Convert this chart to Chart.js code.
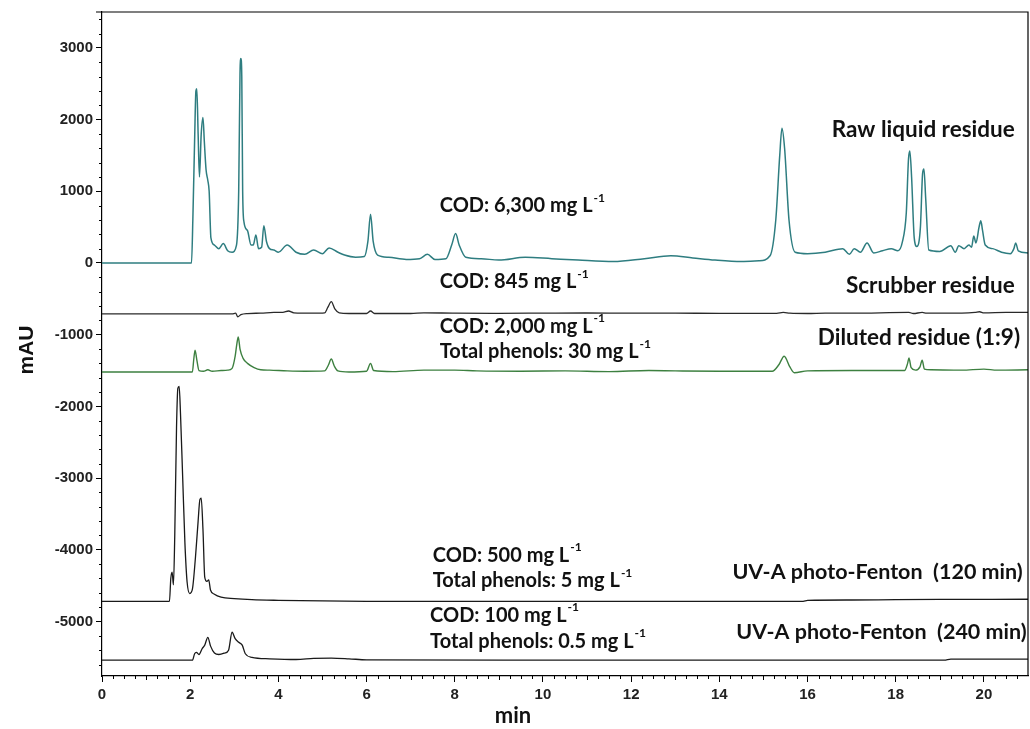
<!DOCTYPE html>
<html>
<head>
<meta charset="utf-8">
<script src="https://cdn.jsdelivr.net/npm/chart.js@4.4.1/dist/chart.umd.min.js"></script>
<style>
  body { margin: 0; background: #fff; }
  #wrap { width: 1030px; height: 729px; }
</style>
</head>
<body>
<div id="wrap"><canvas id="myChart"></canvas></div>
<script>
// retention time (min) / absorbance (mAU), traces stacked with the offsets of the figure
const rawTime = [0, 2.03, 2.06, 2.10, 2.13, 2.15, 2.18, 2.21, 2.25, 2.29, 2.32, 2.36, 2.40, 2.43, 2.47, 2.55, 2.65, 2.75, 2.85, 2.95,
  3.05, 3.10, 3.13, 3.15, 3.17, 3.19, 3.22, 3.30, 3.38, 3.43, 3.49, 3.55, 3.62, 3.67, 3.73, 3.80, 3.90, 4.00, 4.20, 4.40,
  4.60, 4.80, 5.00, 5.15, 5.35, 5.50, 5.75, 5.95, 6.03, 6.09, 6.15, 6.25, 6.50, 6.90, 7.20, 7.38, 7.55, 7.80, 7.93, 8.02,
  8.10, 8.25, 8.60, 9.00, 9.60, 10.20, 10.80, 11.60, 12.30, 12.90, 13.40, 13.90, 14.50, 14.90, 15.15, 15.28, 15.37, 15.42, 15.48, 15.58,
  15.72, 16.00, 16.40, 16.80, 16.95, 17.06, 17.20, 17.35, 17.50, 17.70, 17.90, 18.05, 18.15, 18.24, 18.29, 18.32, 18.36, 18.42, 18.48, 18.56,
  18.61, 18.64, 18.68, 18.75, 19.00, 19.25, 19.35, 19.43, 19.55, 19.66, 19.72, 19.77, 19.82, 19.89, 19.93, 19.97, 20.03, 20.20, 20.40, 20.60,
  20.68, 20.72, 20.78, 21.00];
const rawMAU = [0, 0, 600, 1700, 2400, 2430, 1800, 1200, 1800, 2030, 1700, 1300, 1150, 1000, 350, 250, 200, 270, 170, 150,
  250, 1000, 2650, 2850, 2600, 1000, 570, 450, 250, 250, 390, 200, 220, 520, 300, 200, 180, 150, 250, 150,
  120, 180, 130, 210, 150, 110, 80, 90, 300, 680, 300, 110, 80, 50, 60, 120, 50, 60, 250, 410,
  250, 80, 60, 40, 80, 60, 40, 20, 60, 100, 70, 40, 20, 30, 100, 600, 1500, 1880, 1600, 600,
  150, 130, 150, 200, 120, 200, 150, 280, 140, 170, 200, 170, 290, 700, 1450, 1560, 1200, 350, 230, 500,
  1250, 1310, 900, 180, 160, 240, 150, 240, 200, 250, 220, 375, 280, 500, 590, 450, 250, 200, 150, 130,
  200, 280, 170, 140];

const scrubTime = [0, 2.95, 3.03, 3.08, 3.15, 3.30, 3.60, 3.90, 4.10, 4.23, 4.35, 4.80, 5.05, 5.12, 5.20, 5.28, 5.38, 5.60, 6.00, 6.09,
  6.18, 7.00, 7.30, 8.00, 9.00, 10.00, 11.00, 12.00, 13.00, 14.00, 15.30, 15.45, 15.60, 16.00, 16.40, 17.00, 18.30, 18.40, 18.60, 18.70,
  19.50, 19.80, 19.90, 20.00, 20.50, 21.00];
const scrubMAU = [-710, -710, -700, -750, -720, -705, -700, -690, -690, -670, -695, -700, -695, -620, -540, -640, -695, -705, -705, -670,
  -705, -705, -695, -700, -702, -700, -698, -700, -700, -702, -702, -690, -700, -705, -700, -700, -690, -705, -690, -700,
  -700, -690, -680, -695, -690, -690];

const dilTime = [0, 2.05, 2.08, 2.11, 2.15, 2.20, 2.30, 2.40, 2.50, 2.70, 2.85, 2.95, 3.02, 3.06, 3.09, 3.13, 3.20, 3.30, 3.45, 3.60,
  3.80, 4.20, 4.60, 5.05, 5.13, 5.20, 5.27, 5.35, 5.60, 6.00, 6.09, 6.16, 6.60, 7.30, 8.00, 8.50, 9.50, 10.50, 11.50, 12.40,
  13.00, 14.00, 15.20, 15.35, 15.47, 15.60, 15.70, 16.00, 17.00, 18.20, 18.27, 18.30, 18.35, 18.45, 18.55, 18.60, 18.65, 18.80, 19.50, 20.00,
  20.30, 21.00];
const dilMAU = [-1520, -1520, -1350, -1215, -1350, -1500, -1510, -1490, -1510, -1500, -1495, -1470, -1300, -1120, -1030, -1200, -1330, -1400, -1460, -1490,
  -1495, -1505, -1510, -1505, -1430, -1340, -1440, -1505, -1520, -1510, -1400, -1500, -1515, -1495, -1495, -1505, -1510, -1505, -1515, -1500,
  -1505, -1510, -1510, -1420, -1300, -1450, -1530, -1505, -1500, -1500, -1400, -1325, -1460, -1495, -1450, -1355, -1480, -1490, -1495, -1480,
  -1495, -1490];

const pf120Time = [0, 1.53, 1.56, 1.59, 1.62, 1.65, 1.69, 1.72, 1.75, 1.78, 1.83, 1.88, 1.93, 1.99, 2.05, 2.12, 2.18, 2.22, 2.25, 2.29,
  2.33, 2.38, 2.42, 2.46, 2.55, 2.70, 3.00, 3.40, 4.00, 4.50, 6.00, 10.00, 15.90, 16.00, 17.00, 18.00, 19.00, 21.00];
const pf120MAU = [-4720, -4720, -4400, -4310, -4490, -3800, -2300, -1750, -1720, -2100, -3000, -3900, -4450, -4610, -4550, -4100, -3600, -3300, -3280, -3720,
  -4380, -4440, -4420, -4560, -4620, -4660, -4680, -4695, -4705, -4710, -4718, -4720, -4718, -4705, -4700, -4695, -4692, -4690];

const pf240Time = [0, 2.05, 2.10, 2.14, 2.20, 2.27, 2.33, 2.40, 2.46, 2.55, 2.65, 2.78, 2.87, 2.95, 3.02, 3.10, 3.18, 3.25, 3.40, 3.80,
  4.40, 4.80, 5.20, 5.60, 6.00, 10.00, 19.10, 19.25, 21.00];
const pf240MAU = [-5540, -5540, -5450, -5430, -5460, -5380, -5330, -5220, -5340, -5440, -5460, -5440, -5400, -5150, -5240, -5290, -5330, -5450, -5500, -5520,
  -5530, -5515, -5510, -5520, -5535, -5540, -5540, -5525, -5525];

const xTicks = [0, 2, 4, 6, 8, 10, 12, 14, 16, 18, 20];
const yTicks = [-5000, -4000, -3000, -2000, -1000, 0, 1000, 2000, 3000];

// annotations: [text, superscript, time, mAU, align, size]
const notes = [
  ['Raw liquid residue', '', 20.7, 1860, 'right', 22.5],
  ['COD: 6,300 mg L', '-1', 7.66, 795, 'left', 20],
  ['COD: 845 mg L', '-1', 7.66, -265, 'left', 20],
  ['Scrubber residue', '', 20.7, -320, 'right', 22.5],
  ['COD: 2,000 mg L', '-1', 7.66, -880, 'left', 20],
  ['Total phenols: 30 mg L', '-1', 7.66, -1240, 'left', 20],
  ['Diluted residue (1:9)', '', 20.82, -1045, 'right', 22.5],
  ['COD: 500 mg L', '-1', 7.5, -4075, 'left', 20],
  ['Total phenols: 5 mg L', '-1', 7.5, -4435, 'left', 20],
  ['UV-A photo-Fenton  (120 min)', '', 20.88, -4310, 'right', 21.5],
  ['COD: 100 mg L', '-1', 7.44, -4910, 'left', 20],
  ['Total phenols: 0.5 mg L', '-1', 7.44, -5275, 'left', 20],
  ['UV-A photo-Fenton  (240 min)', '', 20.97, -5150, 'right', 21.5]
];

function toPoints(xs, ys) {
  return xs.map((x, i) => ({x: x, y: ys[i]}));
}

function makeSet(label, xs, ys, color, width) {
  return {
    label: label,
    data: toPoints(xs, ys),
    borderColor: color,
    backgroundColor: color,
    borderWidth: width,
    pointRadius: 0,
    cubicInterpolationMode: 'monotone',
    fill: false
  };
}

const extras = {
  id: 'extras',
  afterDraw(chart) {
    const ctx = chart.ctx;
    const area = chart.chartArea;
    const xs = chart.scales.x;
    const ys = chart.scales.y;
    ctx.save();
    // frame top and right
    ctx.strokeStyle = '#000';
    ctx.lineWidth = 1.2;
    ctx.beginPath();
    ctx.moveTo(area.left - 6, area.top);
    ctx.lineTo(area.right, area.top);
    ctx.lineTo(area.right, area.bottom);
    ctx.stroke();

    // minor ticks
    ctx.lineWidth = 1;
    ctx.beginPath();
    for (let v = -5600; v <= 3400; v += 200) {
      if (v % 1000 === 0) continue;
      const py = Math.round(ys.getPixelForValue(v)) + 0.5;
      ctx.moveTo(area.left - 3, py);
      ctx.lineTo(area.left, py);
    }
    for (let v = 0.25; v < 21; v += 0.25) {
      if (Math.abs(v % 2) < 1e-6) continue;
      const px = Math.round(xs.getPixelForValue(v)) + 0.5;
      const len = Math.abs(v % 1) < 1e-6 ? 4 : 3;
      ctx.moveTo(px, area.bottom);
      ctx.lineTo(px, area.bottom + len);
    }
    ctx.stroke();

    // axis titles
    ctx.fillStyle = '#111';
    ctx.textAlign = 'center';
    ctx.textBaseline = 'middle';
    ctx.font = 'bold 21px "Liberation Sans", Arial, sans-serif';
    ctx.save();
    ctx.translate(27, 350);
    ctx.rotate(-Math.PI / 2);
    ctx.fillText('mAU', 0, 0);
    ctx.restore();
    ctx.font = 'bold 22px Lato, "Open Sans", sans-serif';
    ctx.fillText('min', 513, 716);

    // annotations
    ctx.textAlign = 'left';
    notes.forEach(n => {
      const [text, sup, t, v, align, size] = n;
      const px = xs.getPixelForValue(t);
      const py = ys.getPixelForValue(v);
      const mainFont = 'bold ' + size + 'px Lato, "Open Sans", sans-serif';
      const supFont = 'bold ' + Math.round(size * 0.62) + 'px Lato, "Open Sans", sans-serif';
      ctx.font = mainFont;
      const w1 = ctx.measureText(text).width;
      ctx.font = supFont;
      const w2 = sup ? ctx.measureText(sup).width : 0;
      const start = align === 'right' ? px - w1 - w2 : px;
      ctx.font = mainFont;
      ctx.fillText(text, start, py);
      if (sup) {
        ctx.font = supFont;
        ctx.fillText(sup, start + w1 + 1, py - size * 0.38);
      }
    });
    ctx.restore();
  }
};

const tickFont = {family: '"Liberation Sans", Arial, sans-serif', size: 15, weight: 'bold'};

new Chart(document.getElementById('myChart'), {
  type: 'line',
  data: {
    datasets: [
      makeSet('Raw liquid residue', rawTime, rawMAU, '#2e7d80', 1.5),
      makeSet('Scrubber residue', scrubTime, scrubMAU, '#2a2a2a', 1.3),
      makeSet('Diluted residue (1:9)', dilTime, dilMAU, '#3d8040', 1.4),
      makeSet('UV-A photo-Fenton (120 min)', pf120Time, pf120MAU, '#1a1a1a', 1.3),
      makeSet('UV-A photo-Fenton (240 min)', pf240Time, pf240MAU, '#1a1a1a', 1.3)
    ]
  },
  options: {
    responsive: true,
    maintainAspectRatio: false,
    animation: false,
    layout: {padding: {top: 12, right: 2, left: 0, bottom: 0}},
    plugins: {
      legend: {display: false},
      tooltip: {enabled: false}
    },
    scales: {
      x: {
        type: 'linear',
        min: 0,
        max: 21,
        afterFit: s => { s.height = 53; },
        afterBuildTicks: s => { s.ticks = xTicks.map(v => ({value: v})); },
        ticks: {font: tickFont, color: '#222', padding: 4, maxRotation: 0, autoSkip: false,
          callback: v => String(v)},
        grid: {drawOnChartArea: false, drawTicks: true, tickLength: 6, color: '#000', lineWidth: 1},
        border: {color: '#000', width: 1.2}
      },
      y: {
        type: 'linear',
        min: -5760,
        max: 3500,
        afterFit: s => { s.width = 102; },
        afterBuildTicks: s => { s.ticks = yTicks.map(v => ({value: v})); },
        ticks: {font: tickFont, color: '#222', padding: 3, autoSkip: false,
          callback: v => String(v)},
        grid: {drawOnChartArea: false, drawTicks: true, tickLength: 6, color: '#000', lineWidth: 1},
        border: {color: '#000', width: 1.2}
      }
    }
  },
  plugins: [extras]
});
</script>
</body>
</html>
